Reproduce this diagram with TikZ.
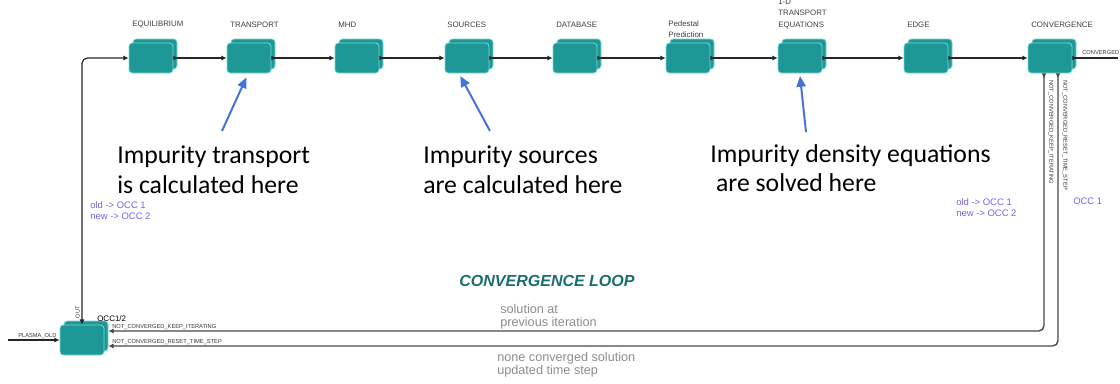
\documentclass[tikz,border=0pt]{standalone}
\usepackage{fontspec}
\setmainfont{Liberation Sans}
\newfontfamily\callfont{Carlito}
\usetikzlibrary{arrows.meta}
\definecolor{boxfill}{RGB}{30,152,150}
\definecolor{boxedge}{RGB}{120,215,212}
\definecolor{bluearr}{RGB}{70,115,215}
\definecolor{purp}{RGB}{115,100,225}
\definecolor{loopteal}{RGB}{25,110,110}
\definecolor{linegray}{RGB}{70,70,70}
\tikzset{
  modfront/.style={fill=boxfill, draw=boxedge, line width=0.6pt, rounded corners=2.5pt,
    minimum width=33pt, minimum height=22.5pt, inner sep=0pt},
  lab/.style={font=\fontsize{5.9}{8.5}\selectfont, text=black!75, inner sep=0pt, align=left, anchor=south west},
  tinylab/.style={font=\fontsize{4.3}{5}\selectfont, text=black!80, inner sep=0pt},
  conn/.style={draw=black!85, line width=0.9pt,
    {Latex[reversed,length=3.5pt,width=3.5pt]}-{Latex[length=4pt,width=4pt]}},
  loopline/.style={draw=linegray, line width=1pt, rounded corners=4pt,
    {Latex[reversed,length=3.5pt,width=3.5pt]}-{Latex[length=4pt,width=4pt]}},
  callout/.style={font=\callfont\fontsize{19.3}{22}\selectfont, inner sep=0pt, align=left, anchor=north west},
  bluearrow/.style={draw=bluearr, line width=1.5pt, -{Triangle[length=8pt,width=7pt]}},
  purptext/.style={font=\fontsize{7.1}{8.3}\selectfont, text=purp, inner sep=0pt, align=left, anchor=north west},
  graytext/.style={font=\fontsize{9.5}{10}\selectfont, text=black!45, inner sep=0pt, align=left, anchor=north west},
}
\newcommand\modbox[3]{%
  \node[modfront] (#1b) at (#2+4,#3-4) {};
  \node[modfront] (#1) at (#2,#3) {};}
\begin{document}
\begin{tikzpicture}[x=0.75pt,y=-0.75pt]
\useasboundingbox (0,0) rectangle (1120,383);
% modules
\modbox{eq}{151}{58}
\modbox{tr}{249}{58}
\modbox{mhd}{357}{58}
\modbox{src}{467}{58}
\modbox{db}{575}{58}
\modbox{ped}{688}{58}
\modbox{tpe}{800}{58}
\modbox{edge}{926}{58}
\modbox{cv}{1050}{58}
\modbox{occ}{82}{340}
% labels
\node[lab] at (132,28) {EQUILIBRIUM};
\node[lab] at (230,28) {TRANSPORT};
\node[lab] at (338,28) {MHD};
\node[lab] at (447,28) {SOURCES};
\node[lab] at (556,28) {DATABASE};
\node[lab] at (668,38) {Pedestal\\Prediction};
\node[lab] at (778,29) {1-D\\TRANSPORT\\EQUATIONS};
\node[lab] at (907,28) {EDGE};
\node[lab] at (1031,28) {CONVERGENCE};
\node[font=\fontsize{6}{7}\selectfont, inner sep=0pt, anchor=base west] at (97,321) {OCC1/2};
% chain
\draw[conn] (eq.east) -- (tr.west);
\draw[conn] (tr.east) -- (mhd.west);
\draw[conn] (mhd.east) -- (src.west);
\draw[conn] (src.east) -- (db.west);
\draw[conn] (db.east) -- (ped.west);
\draw[conn] (ped.east) -- (tpe.west);
\draw[conn] (tpe.east) -- (edge.west);
\draw[conn] (edge.east) -- (cv.west);
% output converged
\coordinate (outc) at (1118,58);
\draw[draw=black!85, line width=0.9pt, {Latex[reversed,length=3.5pt,width=3.5pt]}-] (cv.east) -- (outc);
\node[tinylab, anchor=base west] at (1082,54) {CONVERGED};
% OUT loop to equilibrium
\coordinate (lc) at (82,58);
\draw[draw=black!85, line width=0.9pt, rounded corners=4pt,
  {Latex[length=4pt,width=4pt]}-{Latex[length=4pt,width=4pt]}] (occ.north) -- (lc) -- (eq.west);
\node[tinylab, rotate=90, anchor=south] at (80,312) {OUT};
% plasma old input
\coordinate (pin) at (8,340);
\draw[draw=black!85, line width=0.9pt, -{Latex[length=4pt,width=4pt]}] (pin) -- (occ.west);
\node[tinylab, anchor=base west] at (18,337) {PLASMA\_OLD};
% feedback loops
\coordinate (k1) at (1044,331);
\coordinate (k2) at (1058,346);
\draw[loopline] ([xshift=-4.5pt]cv.south) -- (k1) -- (occb.east |- k1);
\draw[loopline] ([xshift=6pt]cv.south) -- (k2) -- (occb.east |- k2);
\node[tinylab, anchor=base west] at (112,328) {NOT\_CONVERGED\_KEEP\_ITERATING};
\node[tinylab, anchor=base west] at (112,343) {NOT\_CONVERGED\_RESET\_TIME\_STEP};
\node[tinylab, rotate=-90, anchor=south west] at (1048,80) {NOT\_CONVERGED\_KEEP\_ITERATING};
\node[tinylab, rotate=-90, anchor=south west] at (1062,80) {NOT\_CONVERGED\_RESET\_TIME\_STEP};
% callouts
\node[callout] (c1) at (117,146) {Impurity transport\\is calculated here};
\node[callout] (c2) at (423,146) {Impurity sources\\are calculated here};
\node[callout] (c3) at (710,144) {Impurity density equations\\\ are solved here};
\coordinate (a1) at (222,131);
\coordinate (a2) at (490,131);
\coordinate (a3) at (806,132);
\draw[bluearrow] (a1) -- ([xshift=-2pt,yshift=-3pt]tr.south);
\draw[bluearrow] (a2) -- ([xshift=-5pt,yshift=-2pt]src.south);
\draw[bluearrow] (a3) -- ([yshift=-2pt]tpe.south);
% purple notes
\node[purptext] at (90,201) {old -> OCC 1\\new -> OCC 2};
\node[purptext] at (956,198) {old -> OCC 1\\new -> OCC 2};
\node[purptext] at (1073,198) {OCC 1};
% loop title and notes
\node[font=\bfseries\itshape\fontsize{12}{14}\selectfont, text=loopteal, inner sep=0pt] at (547,281) {CONVERGENCE LOOP};
\node[graytext] at (500,304) {solution at\\previous iteration};
\node[graytext] at (497,352) {none converged solution\\updated time step};
\end{tikzpicture}
\end{document}
